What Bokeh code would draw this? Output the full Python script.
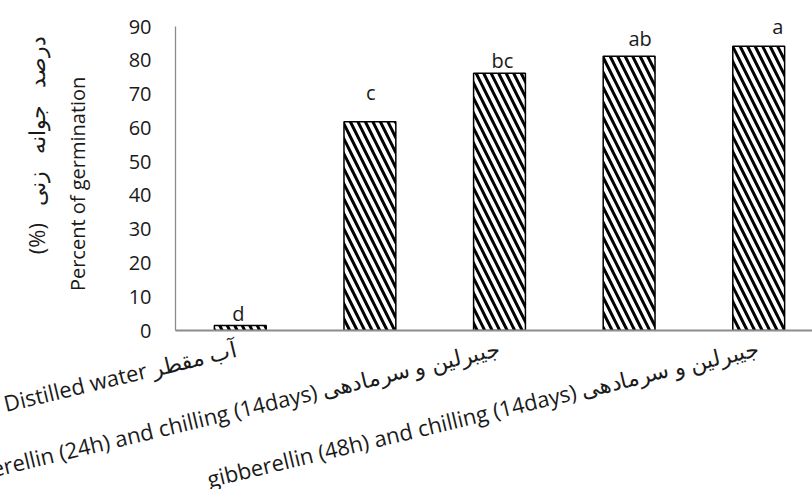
import math
from bokeh.plotting import figure
from bokeh.models import ColumnDataSource, FixedTicker, Range1d, LinearAxis
from bokeh.core.properties import value
from bokeh.embed import file_html
from bokeh.resources import INLINE

# ---- data ----
categories = [
    "Distilled water  آب مقطر",
    "",
    "gibberellin (24h) and chilling (14days) جیبرلین و سرمادهی",
    "",
    "gibberellin (48h) and chilling (14days) جیبرلین و سرمادهی",
]
germination = [1.5, 61.8, 76.2, 81.2, 84.2]
letters = ["d", "c", "bc", "ab", "a"]
y_ticks = [0, 10, 20, 30, 40, 50, 60, 70, 80, 90]
y_title_fa_words = ["(%)", "درصد", "جوانه", "زنی"]
y_title_en = "Percent of  germination"

# ---- styling (positions in px) ----
letter_dx = [-2, 1, 3, 11, 19]
letter_dy = [12, 29, 13, 18, 20]
FONT = "Open Sans"
NB = "\u00a0"
TXT = "#1a1a1a"

idx = list(range(len(categories)))

p = figure(frame_width=637, frame_height=314, output_backend="svg",
           toolbar_location=None,
           x_range=Range1d(-0.5, 4.415), y_range=Range1d(0, 93),
           min_border_left=175, min_border_right=0, min_border_top=16,
           min_border_bottom=0)
p.outline_line_color = None
p.xgrid.grid_line_color = None
p.ygrid.grid_line_color = None
p.background_fill_color = "white"

src = ColumnDataSource(dict(x=idx, top=germination, lab=letters,
                            dx=letter_dx, dy=[-d for d in letter_dy]))
p.vbar(x="x", top="top", width=0.4, source=src, fill_color="white",
       line_color="black", line_width=1.5, hatch_pattern="\\",
       hatch_color="black", hatch_scale=15, hatch_weight=3)

p.text(x="x", y="top", text="lab", source=src, x_offset="dx", y_offset="dy",
       text_align="center", text_baseline="alphabetic",
       text_font=value(FONT), text_font_size="20px", text_color=TXT)

# y axis (English title line)
yax = p.yaxis[0]
yax.ticker = FixedTicker(ticks=y_ticks)
yax.bounds = (0, 90)
yax.major_tick_out = 0
yax.major_tick_in = 0
yax.minor_tick_out = 0
yax.minor_tick_in = 0
yax.axis_line_color = "#8c8c8c"
yax.axis_line_width = 1.3
yax.major_label_standoff = 24
yax.major_label_text_font = FONT
yax.major_label_text_font_size = "20px"
yax.major_label_text_color = TXT
yax.axis_label = y_title_en + NB * 3
yax.axis_label_text_font = FONT
yax.axis_label_text_font_size = "20px"
yax.axis_label_text_font_style = "normal"
yax.axis_label_text_color = TXT
yax.axis_label_standoff = 35

# second, label-only axis for the Persian title line
fa_axis = LinearAxis(ticker=FixedTicker(ticks=[]), axis_line_color=None,
                     major_tick_out=0, minor_tick_out=0,
                     major_tick_in=0, minor_tick_in=0)
fa_axis.axis_label = NB * 10 + (NB * 3).join(y_title_fa_words)
fa_axis.axis_label_text_font = FONT
fa_axis.axis_label_text_font_size = "22px"
fa_axis.axis_label_text_font_style = "normal"
fa_axis.axis_label_text_color = TXT
fa_axis.axis_label_standoff = 10
p.add_layout(fa_axis, "left")

# x axis: only every other category is labelled, as in the reference
xax = p.xaxis[0]
xax.ticker = FixedTicker(ticks=[i for i, c in enumerate(categories) if c])
xax.major_label_overrides = {i: c for i, c in enumerate(categories) if c}
xax.bounds = (-0.5, 4.415)
xax.major_tick_out = 0
xax.major_tick_in = 0
xax.minor_tick_out = 0
xax.minor_tick_in = 0
xax.axis_line_color = "#8c8c8c"
xax.axis_line_width = 1.8
xax.major_label_orientation = math.radians(13.5)
xax.major_label_standoff = 16
xax.major_label_text_font = FONT
xax.major_label_text_font_size = "22px"
xax.major_label_text_color = TXT

open("out.html", "w").write(file_html(p, INLINE))
